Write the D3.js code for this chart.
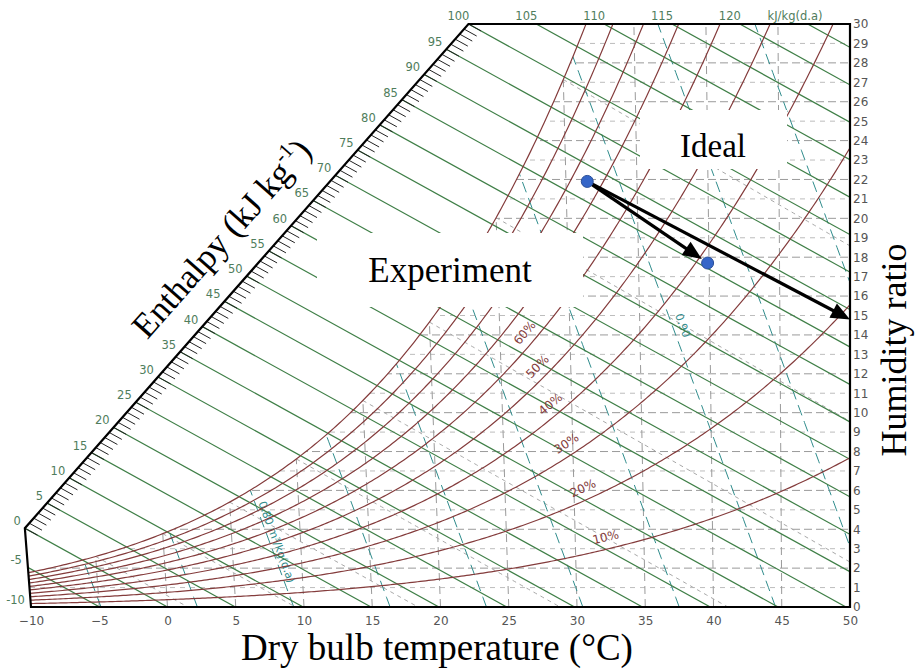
<!DOCTYPE html>
<html>
<head>
<meta charset="utf-8">
<script src="https://cdn.jsdelivr.net/npm/d3@7"></script>
<style>
  html, body { margin: 0; padding: 0; background: #fff; }
  #chart svg { display: block; }
</style>
</head>
<body>
<div id="chart"></div>
<script>
// axis ticks
var dryBulbTicks = [-10, -5, 0, 5, 10, 15, 20, 25, 30, 35, 40, 45, 50];
var humidityTicks = [0, 1, 2, 3, 4, 5, 6, 7, 8, 9, 10, 11, 12, 13, 14, 15,
    16, 17, 18, 19, 20, 21, 22, 23, 24, 25, 26, 27, 28, 29, 30];
var enthalpyLabels = [-10, -5, 0, 5, 10, 15, 20, 25, 30, 35, 40, 45, 50, 55, 60,
    65, 70, 75, 80, 85, 90, 95, 100, 105, 110, 115, 120];

// chart line families
var enthalpyLevels = [-10, -5, 0, 5, 10, 15, 20, 25, 30, 35, 40, 45, 50, 55, 60,
    65, 70, 75, 80, 85, 90, 95, 100, 105, 110, 115, 120, 125];
var rhLevels = [0.1, 0.2, 0.3, 0.4, 0.5, 0.6, 0.7, 0.8, 0.9, 1.0];
var rhLabelNames = ['10%', '20%', '30%', '40%', '50%', '60%'];
var volumeLevels = [0.76, 0.78, 0.80, 0.82, 0.84, 0.86, 0.88, 0.90, 0.92, 0.94];
var wetBulbLevels = [-5, 0, 5, 10, 15, 20, 25, 30];
var isothermLevels = [-5, 0, 5, 10, 15, 20, 25, 30, 35, 40, 45];

// air states (dry bulb degC, humidity ratio g/kg)
var stateT = [31.5, 39.9];
var stateW = [21.9, 17.7];
var idealT = [31.5, 50.0];
var idealW = [21.9, 14.8];

var P = 101.325;
function satPress(T) { return 0.61094 * Math.exp(17.625 * T / (T + 243.04)); }
function wFromRh(T, rh) { var pw = rh * satPress(T); return 622 * pw / (P - pw); }
function enth(T, W) { return 1.006 * T + W * (2.501 + 0.00186 * T); }
function wWetBulb(T, twb) {
    var ws = wFromRh(twb, 1) / 1000;
    return 1000 * ((2501 - 2.326 * twb) * ws - 1.006 * (T - twb)) / (2501 + 1.86 * T - 4.186 * twb);
}
function tFromVolume(v, W) { return v * P / (0.287042 * (1 + 1.6078 * W / 1000)) - 273.15; }

function PsyChart() {

    this.init = function() {
        this._config = {
            width: 917,
            height: 669,
            skew: 2.594,
            green: '#3f7f47',
            red: '#843c3c',
            teal: '#2f8c8c',
            label: '#555'
        };
        this._x = d3.scaleLinear().domain([enth(-10, 0), enth(50, 0)]).range([31, 850]);
        this._y = d3.scaleLinear().domain([0, 30]).range([607, 24]);
        this._w0 = -enth(-10, 0) / (2.501 - 0.0186);
        this._initElements();
        this._drawGrid();
        this._drawEnthalpy();
        this._drawRh();
        this._drawFrame();
        this._drawNotes();
    };

    this._pt = function(T, W) {
        return [this._x(enth(T, W) - this._config.skew * W), this._y(W)];
    };
    this._hPt = function(h, W) {
        return [this._x(h - this._config.skew * W), this._y(W)];
    };
    this._axisW = function(h) {
        return this._w0 + (30 - this._w0) * h / 100;
    };

    this._initElements = function() {
        this._rootNode = d3.select('#chart')
            .append('svg')
            .attr('width', this._config.width)
            .attr('height', this._config.height);

        this._chartPoly = [this._pt(-10, 0), this._hPt(0, this._w0), this._hPt(100, 30),
            [this._x.range()[1], this._y(30)], [this._x.range()[1], this._y(0)]];

        // region below saturation curve
        var lo = 20, hi = 40;
        for (var i = 0; i < 40; i++) {
            var mid = (lo + hi) / 2;
            if (wFromRh(mid, 1) > 30) hi = mid; else lo = mid;
        }
        var sat = [];
        for (var T = -10; T < lo; T += 0.2) sat.push(this._pt(T, wFromRh(T, 1)));
        sat.push(this._pt(lo, 30));
        sat.push([this._x.range()[1], this._y(30)]);
        sat.push([this._x.range()[1], this._y(0)]);
        sat.push(this._pt(-10, 0));

        var defs = this._rootNode.append('defs');
        defs.append('clipPath').attr('id', 'chartClip').append('polygon')
            .attr('points', this._chartPoly.map(function(p) { return p.join(','); }).join(' '));
        defs.append('clipPath').attr('id', 'satClip').append('polygon')
            .attr('points', sat.map(function(p) { return p.join(','); }).join(' '));

        this._line = d3.line();
    };

    this._drawGrid = function() {
        var self = this;
        var g = this._rootNode.append('g').attr('clip-path', 'url(#satClip)');

        // humidity ratio lines
        g.selectAll('line.hum').data(humidityTicks.slice(1, 30)).enter().append('line')
            .attr('x1', 0).attr('x2', 850)
            .attr('y1', function(d) { return self._y(d); })
            .attr('y2', function(d) { return self._y(d); })
            .attr('stroke', function(d) { return d % 2 === 0 ? '#9a9a9a' : '#bdbdbd'; })
            .attr('stroke-width', 1)
            .attr('stroke-dasharray', function(d) { return d % 2 === 0 ? '8,4' : '5,5'; });

        // dry bulb lines
        g.selectAll('path.iso').data(isothermLevels).enter().append('path')
            .attr('d', function(T) { return self._line([self._pt(T, 0), self._pt(T, 30)]); })
            .attr('stroke', '#9a9a9a').attr('fill', 'none')
            .attr('stroke-dasharray', '8,5');

        // wet bulb lines
        g.selectAll('path.wb').data(wetBulbLevels).enter().append('path')
            .attr('d', function(twb) {
                var pts = [];
                for (var T = twb; T <= 52; T += 0.5) {
                    var W = wWetBulb(T, twb);
                    pts.push(self._pt(T, W));
                    if (W < 0) break;
                }
                return self._line(pts);
            })
            .attr('stroke', '#a8a8a8').attr('fill', 'none')
            .attr('stroke-dasharray', '4,4');

        // specific volume lines
        g.selectAll('path.vol').data(volumeLevels).enter().append('path')
            .attr('d', function(v) {
                var pts = [];
                for (var W = 0; W <= 31; W += 0.5) pts.push(self._pt(tFromVolume(v, W), W));
                return self._line(pts);
            })
            .attr('stroke', this._config.teal).attr('fill', 'none')
            .attr('stroke-width', 1)
            .attr('stroke-dasharray', '11,6');

        // volume labels
        var volLabel = function(v, Wstart, txt, dy) {
            var a = self._pt(tFromVolume(v, Wstart), Wstart);
            var b = self._pt(tFromVolume(v, Wstart - 1), Wstart - 1);
            var ang = Math.atan2(b[1] - a[1], b[0] - a[0]) * 180 / Math.PI;
            self._rootNode.append('text')
                .attr('transform', 'translate(' + a[0] + ',' + a[1] + ') rotate(' + ang + ')')
                .attr('dy', dy)
                .attr('font-family', 'DejaVu Sans, sans-serif')
                .attr('font-size', 11)
                .attr('fill', self._config.teal)
                .text(txt);
        };
        volLabel(0.80, 5.3, '0.80 m\u00b3/kg(d.a)', -3);
        volLabel(0.90, 14.9, '0.90', -6);
    };

    this._drawEnthalpy = function() {
        var self = this;
        var C = this._config;
        var g = this._rootNode.append('g').attr('clip-path', 'url(#chartClip)');
        g.selectAll('path.h').data(enthalpyLevels).enter().append('path')
            .attr('d', function(h) { return self._line([self._hPt(h, -1), self._hPt(h, 31)]); })
            .attr('stroke', C.green).attr('stroke-width', 1.2).attr('fill', 'none');

        // minor ticks along the enthalpy scale
        var ticks = d3.range(0, 101, 1);
        this._rootNode.append('g').selectAll('line').data(ticks).enter().append('line')
            .each(function(h) {
                var w = self._axisW(h);
                var a = self._hPt(h, w), b = self._hPt(h, w - 0.36);
                d3.select(this).attr('x1', a[0]).attr('y1', a[1]).attr('x2', b[0]).attr('y2', b[1]);
            })
            .attr('stroke', '#222').attr('stroke-width', 1);

        var lab = this._rootNode.append('g')
            .attr('font-family', 'DejaVu Sans, sans-serif')
            .attr('font-size', 11.5)
            .attr('fill', '#4f7d5c');
        enthalpyLabels.forEach(function(h) {
            var p, anchor = 'end', dx = -4, dy = -3;
            if (h < 0) {
                p = self._pt(-10, (h + 10.06) / (2.501 - 0.0186));
                dx = -6;
            } else if (h < 100) {
                p = self._hPt(h, self._axisW(h));
            } else {
                p = self._hPt(h, 30);
                anchor = 'middle'; dx = -10; dy = -4;
            }
            lab.append('text').attr('x', p[0] + dx).attr('y', p[1] + dy)
                .attr('text-anchor', anchor).text(h);
        });
        lab.append('text').attr('x', 795).attr('y', 20).attr('text-anchor', 'middle')
            .text('kJ/kg(d.a)');
    };

    this._drawRh = function() {
        var self = this;
        var C = this._config;
        var g = this._rootNode.append('g').attr('clip-path', 'url(#chartClip)');
        g.selectAll('path.rh').data(rhLevels).enter().append('path')
            .attr('d', function(rh) {
                var pts = [];
                for (var T = -10; T <= 50.01; T += 0.2) {
                    var W = wFromRh(T, rh);
                    pts.push(self._pt(T, W));
                    if (W > 31) break;
                }
                return self._line(pts);
            })
            .attr('stroke', C.red).attr('stroke-width', 1.2).attr('fill', 'none');

        var labelT = [32.4, 31.0, 30.0, 29.0, 28.2, 27.4];
        rhLabelNames.forEach(function(name, i) {
            var rh = rhLevels[i];
            var T = labelT[i];
            var a = self._pt(T, wFromRh(T, rh));
            var b = self._pt(T + 0.1, wFromRh(T + 0.1, rh));
            var ang = Math.atan2(b[1] - a[1], b[0] - a[0]);
            var cx = a[0] + 12 * Math.sin(ang);
            var cy = a[1] - 12 * Math.cos(ang);
            self._rootNode.append('text')
                .attr('transform', 'translate(' + cx + ',' + cy + ') rotate(' + (ang * 180 / Math.PI) + ')')
                .attr('text-anchor', 'middle')
                .attr('dy', '0.35em')
                .attr('font-family', 'DejaVu Sans, sans-serif')
                .attr('font-size', 12)
                .attr('fill', C.red)
                .text(name);
        });
    };

    this._drawFrame = function() {
        var C = this._config;
        this._rootNode.append('polygon')
            .attr('points', this._chartPoly.map(function(p) { return p.join(','); }).join(' '))
            .attr('fill', 'none').attr('stroke', '#000').attr('stroke-width', 2.2);

        var tScale = d3.scaleLinear().domain([-10, 50]).range(this._x.range());
        var bottom = this._rootNode.append('g')
            .attr('transform', 'translate(0,' + this._y(0) + ')')
            .call(d3.axisBottom(tScale).tickValues(dryBulbTicks).tickSize(0).tickPadding(9));
        var right = this._rootNode.append('g')
            .attr('transform', 'translate(' + this._x.range()[1] + ',0)')
            .call(d3.axisRight(this._y).tickValues(humidityTicks).tickSize(0).tickPadding(3));
        [bottom, right].forEach(function(g) {
            g.select('.domain').remove();
            g.attr('font-family', 'DejaVu Sans, sans-serif').attr('font-size', 12);
            g.selectAll('text').attr('fill', C.label);
        });
    };

    this._drawNotes = function() {
        var self = this;
        var root = this._rootNode;
        var serif = 'Liberation Serif, Times New Roman, serif';

        // axis titles
        root.append('text').attr('x', 437).attr('y', 660)
            .attr('text-anchor', 'middle').attr('font-family', serif).attr('font-size', 37)
            .text('Dry bulb temperature (\u00b0C)');
        root.append('text').attr('transform', 'translate(906,350) rotate(-90)')
            .attr('text-anchor', 'middle').attr('font-family', serif).attr('font-size', 36)
            .text('Humidity ratio');
        var et = root.append('text').attr('transform', 'translate(221,238) rotate(-48.6)')
            .attr('text-anchor', 'middle').attr('dy', '0.35em')
            .attr('font-family', serif).attr('font-size', 35);
        et.append('tspan').text('Enthalpy (kJ kg');
        et.append('tspan').attr('font-size', 21).attr('dy', '-0.7em').text('-1');
        et.append('tspan').attr('dy', '0.42em').text(')');

        // annotation boxes
        root.append('rect').attr('x', 317).attr('y', 233).attr('width', 266).attr('height', 74)
            .attr('fill', '#fff');
        root.append('text').attr('x', 450).attr('y', 282).attr('text-anchor', 'middle')
            .attr('font-family', serif).attr('font-size', 35).text('Experiment');
        root.append('rect').attr('x', 640).attr('y', 110).attr('width', 147).attr('height', 59)
            .attr('fill', '#fff');
        root.append('text').attr('x', 713).attr('y', 157).attr('text-anchor', 'middle')
            .attr('font-family', serif).attr('font-size', 33).text('Ideal');

        // process arrows
        var arrow = function(a, b, shorten) {
            var dx = b[0] - a[0], dy = b[1] - a[1];
            var len = Math.sqrt(dx * dx + dy * dy);
            var ux = dx / len, uy = dy / len;
            var tip = [b[0] - ux * shorten, b[1] - uy * shorten];
            var headL = 19, headW = 8;
            var base = [tip[0] - ux * headL, tip[1] - uy * headL];
            root.append('line').attr('x1', a[0]).attr('y1', a[1])
                .attr('x2', base[0] + ux * 2).attr('y2', base[1] + uy * 2)
                .attr('stroke', '#000').attr('stroke-width', 3.2);
            root.append('path')
                .attr('d', 'M' + tip[0] + ',' + tip[1] +
                    'L' + (base[0] - uy * headW) + ',' + (base[1] + ux * headW) +
                    'L' + (base[0] + uy * headW) + ',' + (base[1] - ux * headW) + 'Z')
                .attr('fill', '#000');
        };
        var s0 = this._pt(stateT[0], stateW[0]);
        var s1 = this._pt(stateT[1], stateW[1]);
        var i1 = this._pt(idealT[1], idealW[1]);
        arrow(s0, s1, 7);
        arrow(this._pt(idealT[0], idealW[0]), i1, 0);

        root.selectAll('circle.state').data(stateT).enter().append('circle')
            .attr('cx', function(d, i) { return self._pt(d, stateW[i])[0]; })
            .attr('cy', function(d, i) { return self._pt(d, stateW[i])[1]; })
            .attr('r', 6)
            .attr('fill', '#3566c8')
            .attr('stroke', '#2a4f99').attr('stroke-width', 1);
    };

    this.init();
}

function initApp() {
    if (typeof(window.psyChart) === 'undefined') {
        window.psyChart = new PsyChart();
    }
}
document.addEventListener('DOMContentLoaded', initApp);
</script>
</body>
</html>
